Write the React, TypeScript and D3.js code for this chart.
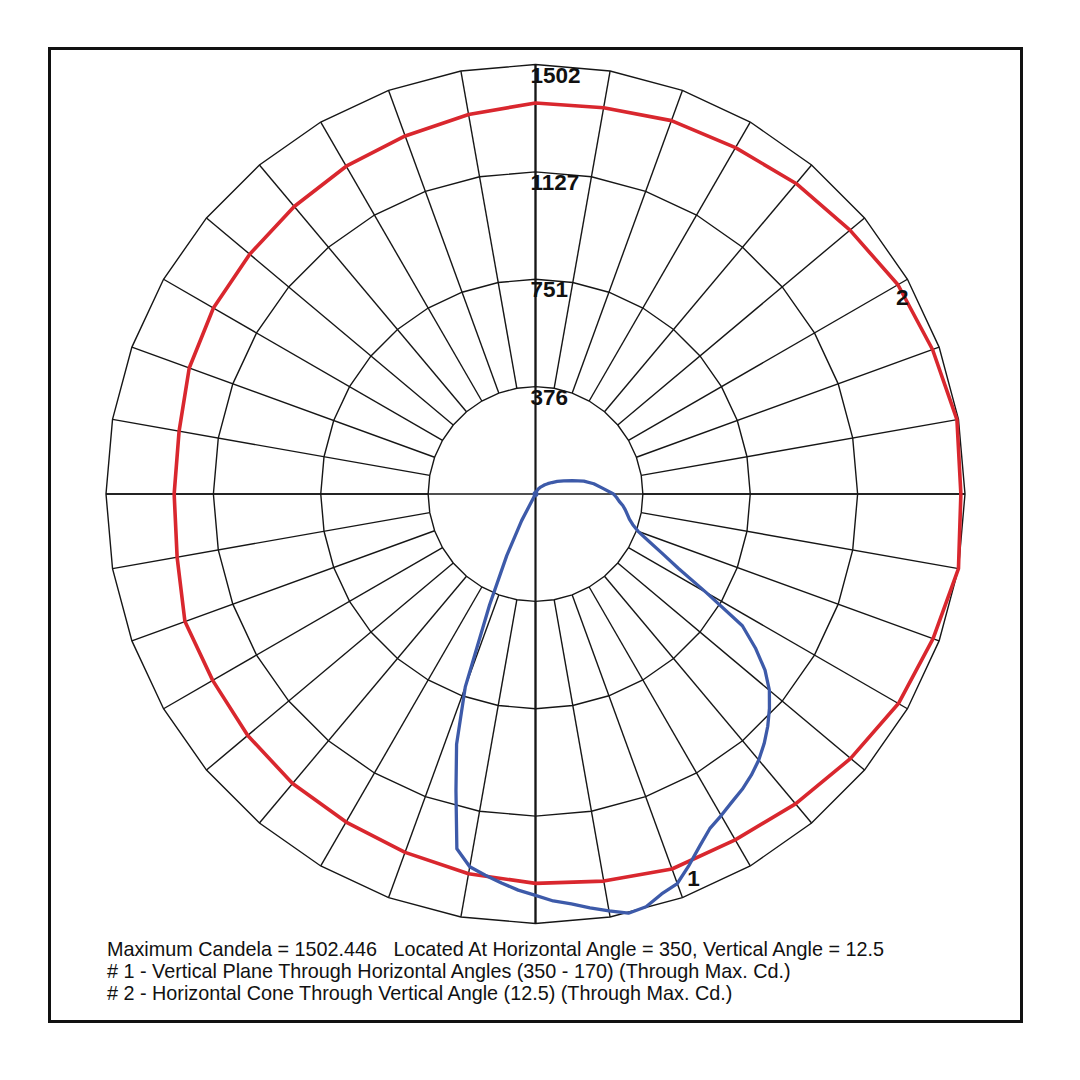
import React from 'react';
import * as d3 from 'd3';

// ---- data ----
const MAX_CD = 1502.446;
const RING_VALUES = [375.6, 751.2, 1126.8, 1502.446];
const RING_LABELS = ['376', '751', '1127', '1502'];

// Horizontal angles of the grid spokes and of curve #2 (horizontal cone at V = 12.5)
const H_ANGLES = [0, 10, 20, 30, 40, 50, 60, 70, 80, 90, 100, 110, 120, 130, 140, 150, 160, 170,
  180, 190, 200, 210, 220, 230, 240, 250, 260, 270, 280, 290, 300, 310, 320, 330, 340, 350];
const CONE_CD = [1488, 1497, 1478, 1464, 1436, 1418, 1399, 1390, 1372, 1368, 1348, 1333, 1324, 1313,
  1305, 1301, 1289, 1266, 1264, 1273, 1305, 1304, 1314, 1322, 1325, 1334, 1349, 1362, 1375, 1396,
  1397, 1415, 1439, 1466, 1480, 1502.446];

// Curve #1: vertical plane through horizontal angles 350 (right) and 170 (left)
const V_ANGLES = [0, 2.5, 5, 7.5, 10, 12.5, 15, 17.5, 20, 22.5, 25, 27.5, 30, 32.5, 35, 37.5, 40,
  42.5, 45, 47.5, 50, 52.5, 55, 57.5, 60, 62.5, 65, 67.5, 70, 72.5, 75, 77.5, 80, 82.5, 85, 87.5, 90,
  95, 100, 105, 110, 115, 120, 125, 130, 135, 140, 145, 150, 155, 160, 165, 170, 175, 180];
const PLANE_350_CD = [1404, 1425, 1439, 1460, 1481, 1502, 1495, 1467, 1450, 1405, 1359, 1320, 1299,
  1278, 1261, 1240, 1215, 1184, 1149, 1110, 1068, 1012, 939, 858, 690, 564, 487, 427, 382, 357, 340,
  329, 319, 308, 294, 284, 273, 235, 207, 175, 137, 109, 88, 70, 56, 46, 35, 28, 21, 14, 11, 7, 4, 2, 0];
const PLANE_170_CD = [1404, 1387, 1366, 1345, 1324, 1271, 1075, 918, 718, 420, 238, 105, 0, 0, 0, 0,
  0, 0, 0, 0, 0, 0, 0, 0, 0, 0, 0, 0, 0, 0, 0, 0, 0, 0, 0, 0, 0, 0, 0, 0, 0, 0, 0, 0, 0, 0, 0, 0, 0,
  0, 0, 0, 0, 0, 0];

const NOTES = [
  'Maximum Candela = 1502.446   Located At Horizontal Angle = 350, Vertical Angle = 12.5',
  '# 1 - Vertical Plane Through Horizontal Angles (350 - 170) (Through Max. Cd.)',
  '# 2 - Horizontal Cone Through Vertical Angle (12.5) (Through Max. Cd.)',
];

const CURVE_LABEL_CONE_H = 30; // "2" placed at this horizontal angle on curve #2
const CURVE_LABEL_PLANE_V = 22.5; // "1" placed at this vertical angle on curve #1 (350 side)

export default function App() {
  const W = 1080;
  const cx = 535.5;
  const cy = 494;
  const R = 429.5;
  const rad = (deg: number) => (deg * Math.PI) / 180;
  const r = d3.scaleLinear().domain([0, MAX_CD]).range([0, R]);

  // horizontal angle h: counter-clockwise from east -> lineRadial angle = 90 - h
  const ringPath = (v: number) =>
    d3.lineRadial<number>()
      .angle((h) => rad(90 - h))
      .radius(() => r(v))
      .curve(d3.curveLinearClosed)(H_ANGLES) as string;

  const conePath = d3.lineRadial<[number, number]>()
    .angle((d) => rad(90 - d[0]))
    .radius((d) => r(d[1]))
    .curve(d3.curveLinearClosed)(H_ANGLES.map((h, i) => [h, CONE_CD[i]])) as string;

  // vertical angle v measured from nadir (down). right side: angle 180 - v; left side: 180 + v
  const planePts: [number, number][] = [
    ...V_ANGLES.map((v, i) => [180 - v, PLANE_350_CD[i]] as [number, number]),
    ...V_ANGLES.map((v, i) => [180 + v, PLANE_170_CD[i]] as [number, number]).reverse(),
  ];
  const planePath = d3.lineRadial<[number, number]>()
    .angle((d) => rad(d[0]))
    .radius((d) => r(d[1]))
    .curve(d3.curveLinearClosed)(planePts) as string;

  const innerR = r(RING_VALUES[0]);
  const outerR = r(RING_VALUES[RING_VALUES.length - 1]);

  const coneIdx = H_ANGLES.indexOf(CURVE_LABEL_CONE_H);
  const coneLabelR = r(CONE_CD[coneIdx]);
  const lab2 = {
    x: cx + coneLabelR * Math.cos(rad(CURVE_LABEL_CONE_H)),
    y: cy - coneLabelR * Math.sin(rad(CURVE_LABEL_CONE_H)),
  };
  const planeIdx = V_ANGLES.indexOf(CURVE_LABEL_PLANE_V);
  const planeLabelR = r(PLANE_350_CD[planeIdx]);
  const lab1 = {
    x: cx + planeLabelR * Math.sin(rad(CURVE_LABEL_PLANE_V)),
    y: cy + planeLabelR * Math.cos(rad(CURVE_LABEL_PLANE_V)),
  };

  const gridColor = '#161616';
  const font = '"Liberation Sans", Arial, Helvetica, sans-serif';

  return (
    <div style={{ position: 'absolute', left: 0, top: 0 }}>
      <svg width={W} height={W} viewBox={`0 0 ${W} ${W}`} style={{ display: 'block', background: '#fff' }}>
        <rect x={0} y={0} width={W} height={W} fill="#fff" />
        <rect x={49.5} y={48.5} width={972} height={973} fill="none" stroke="#111" strokeWidth={3} />

        <g transform={`translate(${cx},${cy})`}>
          {RING_VALUES.map((v, i) => (
            <path key={'ring' + i} d={ringPath(v)} fill="none" stroke={gridColor} strokeWidth={1.4} />
          ))}
          {H_ANGLES.map((h) => (
            <line
              key={'sp' + h}
              x1={innerR * Math.cos(rad(h))}
              y1={-innerR * Math.sin(rad(h))}
              x2={outerR * Math.cos(rad(h))}
              y2={-outerR * Math.sin(rad(h))}
              stroke={gridColor}
              strokeWidth={1.4}
            />
          ))}
          <line x1={-outerR} y1={0} x2={outerR} y2={0} stroke={gridColor} strokeWidth={1.6} />
          <line x1={0} y1={-outerR} x2={0} y2={outerR} stroke={gridColor} strokeWidth={2.2} />

          <path d={conePath} fill="none" stroke="#d9272e" strokeWidth={3.6} strokeLinejoin="round" />
          <path d={planePath} fill="none" stroke="#3d5aa9" strokeWidth={3.3} strokeLinejoin="round" />
          <circle cx={0} cy={0} r={3} fill="#3d5aa9" />
        </g>

        {RING_VALUES.map((v, i) => (
          <text
            key={'rl' + i}
            x={cx - 5}
            y={cy - r(v) + 18}
            fontFamily={font}
            fontWeight="bold"
            fontSize={22.5}
            fill="#111"
          >
            {RING_LABELS[i]}
          </text>
        ))}

        <text x={lab2.x - 2} y={lab2.y + 20} fontFamily={font} fontWeight="bold" fontSize={22.5} fill="#111">2</text>
        <text x={lab1.x - 2} y={lab1.y + 21} fontFamily={font} fontWeight="bold" fontSize={22.5} fill="#111">1</text>

        {NOTES.map((t, i) => (
          <text
            key={'n' + i}
            x={107}
            y={956 + i * 22}
            fontFamily={font}
            fontSize={19.8}
            fill="#111"
            style={{ whiteSpace: 'pre' }}
          >
            {t}
          </text>
        ))}
      </svg>
    </div>
  );
}
